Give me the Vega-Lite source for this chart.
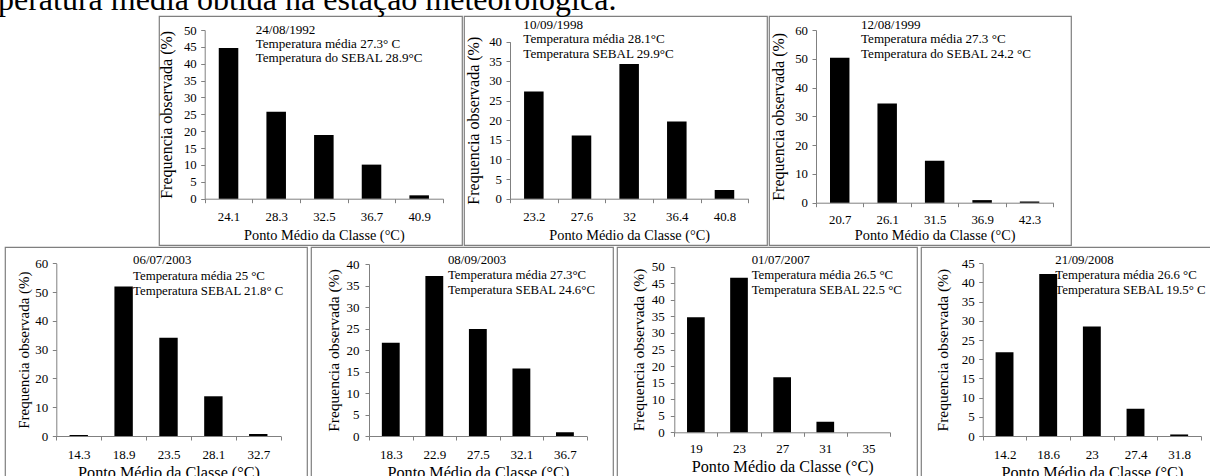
{
  "$schema": "https://vega.github.io/schema/vega-lite/v6.json",
  "background": "white",
  "padding": {"left": -2, "top": -16, "right": -11, "bottom": 0},
  "title": {"text": "peratura média obtida na estação meteorológica.", "anchor": "start", "dx": -7, "offset": -27, "fontSize": 32, "font": "Liberation Serif", "fontWeight": "normal", "color": "#000000", "baseline": "alphabetic", "frame": "group"},
  "spacing": 0,
  "vconcat": [
    {
      "spacing": 0,
      "hconcat": [
        {"width": 152, "height": 10, "view": {"stroke": null}, "data": {"values": [{"a": 1}]}, "mark": {"type": "point", "opacity": 0}, "encoding": {}},
        {
          "width": 303, "height": 229,
          "encoding": {
            "x": {"field": "c", "type": "ordinal", "sort": null,
              "scale": {"domain": ["24.1", "28.3", "32.5", "36.7", "40.9"], "range": [45.7, 284], "paddingInner": 0, "paddingOuter": 0},
              "axis": {"offset": -46.3, "labelPadding": 14, "titleY": 36.3, "title": "Ponto Médio da Classe (°C)", "labelFontSize": 12.8, "titleFontSize": 14.3}},
            "y": {"field": "f", "type": "quantitative",
              "scale": {"domain": [0, 50], "range": [182.7, 14], "nice": false},
              "axis": {"offset": -45.7, "values": [0, 5, 10, 15, 20, 25, 30, 35, 40, 45, 50], "labelOverlap": false, "titleX": -38.4, "title": "Frequencia observada (%)", "labelFontSize": 12.8, "titleFontSize": 16}}
          },
          "layer": [
            {"data": {"values": [{"c": "24.1", "f": 44.7}, {"c": "28.3", "f": 25.8}, {"c": "32.5", "f": 18.9}, {"c": "36.7", "f": 10.1}, {"c": "40.9", "f": 1.0}]},
             "mark": {"type": "bar", "color": "#000000", "width": {"band": 0.41}}},
            {"data": {"values": [{"c": "28.3", "f": 50, "t": "24/08/1992\nTemperatura média 27.3° C\nTemperatura do SEBAL 28.9°C"}]},
             "mark": {"type": "text", "align": "left", "baseline": "top", "dx": -20.5, "dy": -5.8, "lineHeight": 13.9, "fontSize": 13.1, "lineBreak": "\n", "font": "Liberation Serif", "color": "#000000"},
             "encoding": {"text": {"field": "t"}}}
          ]
        },
        {
          "width": 303, "height": 229,
          "encoding": {
            "x": {"field": "c", "type": "ordinal", "sort": null,
              "scale": {"domain": ["23.2", "27.6", "32", "36.4", "40.8"], "range": [46, 284.3], "paddingInner": 0, "paddingOuter": 0},
              "axis": {"offset": -46.3, "labelPadding": 14, "titleY": 36.3, "title": "Ponto Médio da Classe (°C)", "labelFontSize": 12.8, "titleFontSize": 14.3}},
            "y": {"field": "f", "type": "quantitative",
              "scale": {"domain": [0, 40], "range": [182.7, 25.7], "nice": false},
              "axis": {"offset": -46, "values": [0, 5, 10, 15, 20, 25, 30, 35, 40], "labelOverlap": false, "titleX": -36.7, "title": "Frequencia observada (%)", "labelFontSize": 12.8, "titleFontSize": 16}}
          },
          "layer": [
            {"data": {"values": [{"c": "23.2", "f": 27.3}, {"c": "27.6", "f": 16.1}, {"c": "32", "f": 34.3}, {"c": "36.4", "f": 19.7}, {"c": "40.8", "f": 2.2}]},
             "mark": {"type": "bar", "color": "#000000", "width": {"band": 0.41}}},
            {"data": {"values": [{"c": "23.2", "f": 40, "t": "10/09/1998\nTemperatura média 28.1°C\nTemperatura SEBAL 29.9°C"}]},
             "mark": {"type": "text", "align": "left", "baseline": "top", "dx": -10.5, "dy": -23.2, "lineHeight": 14.5, "fontSize": 13.1, "lineBreak": "\n", "font": "Liberation Serif", "color": "#000000"},
             "encoding": {"text": {"field": "t"}}}
          ]
        },
        {
          "width": 302, "height": 229,
          "encoding": {
            "x": {"field": "c", "type": "ordinal", "sort": null,
              "scale": {"domain": ["20.7", "26.1", "31.5", "36.9", "42.3"], "range": [47, 284.3], "paddingInner": 0, "paddingOuter": 0},
              "axis": {"offset": -42.3, "labelPadding": 12.3, "titleY": 32.3, "title": "Ponto Médio da Classe (°C)", "labelFontSize": 12.8, "titleFontSize": 14.3}},
            "y": {"field": "f", "type": "quantitative",
              "scale": {"domain": [0, 60], "range": [186.7, 14], "nice": false},
              "axis": {"offset": -47, "values": [0, 10, 20, 30, 40, 50, 60], "labelOverlap": false, "titleX": -37.7, "title": "Frequencia observada (%)", "labelFontSize": 12.8, "titleFontSize": 16}}
          },
          "layer": [
            {"data": {"values": [{"c": "20.7", "f": 50.4}, {"c": "26.1", "f": 34.5}, {"c": "31.5", "f": 14.6}, {"c": "36.9", "f": 0.9}, {"c": "42.3", "f": 0.4}]},
             "mark": {"type": "bar", "color": "#000000", "width": {"band": 0.41}}},
            {"data": {"values": [{"c": "26.1", "f": 60, "t": "12/08/1999\nTemperatura média 27.3 °C\nTemperatura do SEBAL 24.2 °C"}]},
             "mark": {"type": "text", "align": "left", "baseline": "top", "dx": -26.2, "dy": -11.5, "lineHeight": 14.5, "fontSize": 13.1, "lineBreak": "\n", "font": "Liberation Serif", "color": "#000000"},
             "encoding": {"text": {"field": "t"}}}
          ]
        }
      ]
    },
    {
      "spacing": 2,
      "hconcat": [
        {
          "width": 302, "height": 236,
          "encoding": {
            "x": {"field": "c", "type": "ordinal", "sort": null,
              "scale": {"domain": ["14.3", "18.9", "23.5", "28.1", "32.7"], "range": [51.3, 275.7], "paddingInner": 0, "paddingOuter": 0},
              "axis": {"offset": -47, "labelPadding": 14, "titleY": 36, "title": "Ponto Médio da Classe (°C)", "labelFontSize": 13, "titleFontSize": 16.2}},
            "y": {"field": "f", "type": "quantitative",
              "scale": {"domain": [0, 60], "range": [189, 16.3], "nice": false},
              "axis": {"offset": -51.3, "values": [0, 10, 20, 30, 40, 50, 60], "labelOverlap": false, "titleX": -33.3, "title": "Frequencia observada (%)", "labelFontSize": 13, "titleFontSize": 15}}
          },
          "layer": [
            {"data": {"values": [{"c": "14.3", "f": 0.35}, {"c": "18.9", "f": 51.9}, {"c": "23.5", "f": 34.1}, {"c": "28.1", "f": 13.8}, {"c": "32.7", "f": 0.7}]},
             "mark": {"type": "bar", "color": "#000000", "width": {"band": 0.41}}},
            {"data": {"values": [{"c": "23.5", "f": 60, "t": "06/07/2003\nTemperatura média 25 °C\nTemperatura SEBAL 21.8° C"}]},
             "mark": {"type": "text", "align": "left", "baseline": "top", "dx": -35.4, "dy": -9, "lineHeight": 15.5, "fontSize": 12.8, "lineBreak": "\n", "font": "Liberation Serif", "color": "#000000"},
             "encoding": {"text": {"field": "t"}}}
          ]
        },
        {
          "width": 302, "height": 236,
          "encoding": {
            "x": {"field": "c", "type": "ordinal", "sort": null,
              "scale": {"domain": ["18.3", "22.9", "27.5", "32.1", "36.7"], "range": [58, 275.7], "paddingInner": 0, "paddingOuter": 0},
              "axis": {"offset": -47, "labelPadding": 14, "titleY": 36, "title": "Ponto Médio da Classe (°C)", "labelFontSize": 13, "titleFontSize": 16.2}},
            "y": {"field": "f", "type": "quantitative",
              "scale": {"domain": [0, 40], "range": [189, 17], "nice": false},
              "axis": {"offset": -58, "values": [0, 5, 10, 15, 20, 25, 30, 35, 40], "labelOverlap": false, "labelPadding": 6, "titleX": -35.7, "title": "Frequencia observada (%)", "labelFontSize": 13, "titleFontSize": 15.5}}
          },
          "layer": [
            {"data": {"values": [{"c": "18.3", "f": 21.7}, {"c": "22.9", "f": 37.2}, {"c": "27.5", "f": 24.9}, {"c": "32.1", "f": 15.7}, {"c": "36.7", "f": 0.85}]},
             "mark": {"type": "bar", "color": "#000000", "width": {"band": 0.41}}},
            {"data": {"values": [{"c": "27.5", "f": 40, "t": "08/09/2003\nTemperatura média 27.3°C\nTemperatura SEBAL 24.6°C"}]},
             "mark": {"type": "text", "align": "left", "baseline": "top", "dx": -29.9, "dy": -9.7, "lineHeight": 15, "fontSize": 12.8, "lineBreak": "\n", "font": "Liberation Serif", "color": "#000000"},
             "encoding": {"text": {"field": "t"}}}
          ]
        },
        {
          "width": 300, "height": 236,
          "encoding": {
            "x": {"field": "c", "type": "ordinal", "sort": null,
              "scale": {"domain": ["19", "23", "27", "31", "35"], "range": [57.3, 273], "paddingInner": 0, "paddingOuter": 0},
              "axis": {"offset": -50.7, "labelPadding": 11.7, "titleY": 34.4, "title": "Ponto Médio da Classe (°C)", "labelFontSize": 13, "titleFontSize": 16.2}},
            "y": {"field": "f", "type": "quantitative",
              "scale": {"domain": [0, 50], "range": [185.3, 19.7], "nice": false},
              "axis": {"offset": -57.3, "values": [0, 5, 10, 15, 20, 25, 30, 35, 40, 45, 50], "labelOverlap": false, "labelPadding": 6, "titleX": -36, "title": "Frequencia  observada (%)", "labelFontSize": 13, "titleFontSize": 15.5}}
          },
          "layer": [
            {"data": {"values": [{"c": "19", "f": 34.7}, {"c": "23", "f": 46.7}, {"c": "27", "f": 16.6}, {"c": "31", "f": 3.2}, {"c": "35", "f": 0}]},
             "mark": {"type": "bar", "color": "#000000", "width": {"band": 0.41}}},
            {"data": {"values": [{"c": "27", "f": 50, "t": "01/07/2007\nTemperatura média 26.5 °C\nTemperatura SEBAL 22.5 °C"}]},
             "mark": {"type": "text", "align": "left", "baseline": "top", "dx": -30.5, "dy": -12.4, "lineHeight": 15, "fontSize": 12.8, "lineBreak": "\n", "font": "Liberation Serif", "color": "#000000"},
             "encoding": {"text": {"field": "t"}}}
          ]
        },
        {
          "width": 300, "height": 236,
          "encoding": {
            "x": {"field": "c", "type": "ordinal", "sort": null,
              "scale": {"domain": ["14.2", "18.6", "23", "27.4", "31.8"], "range": [61.7, 280], "paddingInner": 0, "paddingOuter": 0},
              "axis": {"offset": -47, "labelPadding": 14, "titleY": 36, "title": "Ponto Médio da Classe (°C)", "labelFontSize": 13, "titleFontSize": 16.2}},
            "y": {"field": "f", "type": "quantitative",
              "scale": {"domain": [0, 45], "range": [189, 16.3], "nice": false},
              "axis": {"offset": -61.7, "values": [0, 5, 10, 15, 20, 25, 30, 35, 40, 45], "labelOverlap": false, "titleX": -40, "title": "Frequencia observada (%)", "labelFontSize": 13, "titleFontSize": 15.5}}
          },
          "layer": [
            {"data": {"values": [{"c": "14.2", "f": 21.8}, {"c": "18.6", "f": 42.2}, {"c": "23", "f": 28.5}, {"c": "27.4", "f": 7.1}, {"c": "31.8", "f": 0.4}]},
             "mark": {"type": "bar", "color": "#000000", "width": {"band": 0.41}}},
            {"data": {"values": [{"c": "23", "f": 45, "t": "21/09/2008\nTemperatura média 26.6 °C\nTemperatura SEBAL 19.5° C"}]},
             "mark": {"type": "text", "align": "left", "baseline": "top", "dx": -36.5, "dy": -9, "lineHeight": 15, "fontSize": 12.8, "lineBreak": "\n", "font": "Liberation Serif", "color": "#000000"},
             "encoding": {"text": {"field": "t"}}}
          ]
        }
      ]
    }
  ],
  "config": {
    "font": "Liberation Serif",
    "view": {"stroke": "#7f7f7f", "strokeWidth": 1.2},
    "axis": {"domainColor": "#808080", "tickColor": "#808080", "tickSize": 4, "grid": false, "labelFont": "Liberation Serif", "titleFont": "Liberation Serif", "labelColor": "#000000", "titleColor": "#000000", "titleFontWeight": "normal", "labelOverlap": false},
    "axisX": {"labelAngle": 0, "labelBaseline": "middle", "tickBand": "extent", "titleBaseline": "middle"},
    "axisY": {"labelPadding": 4.5, "titleBaseline": "middle"}
  }
}
